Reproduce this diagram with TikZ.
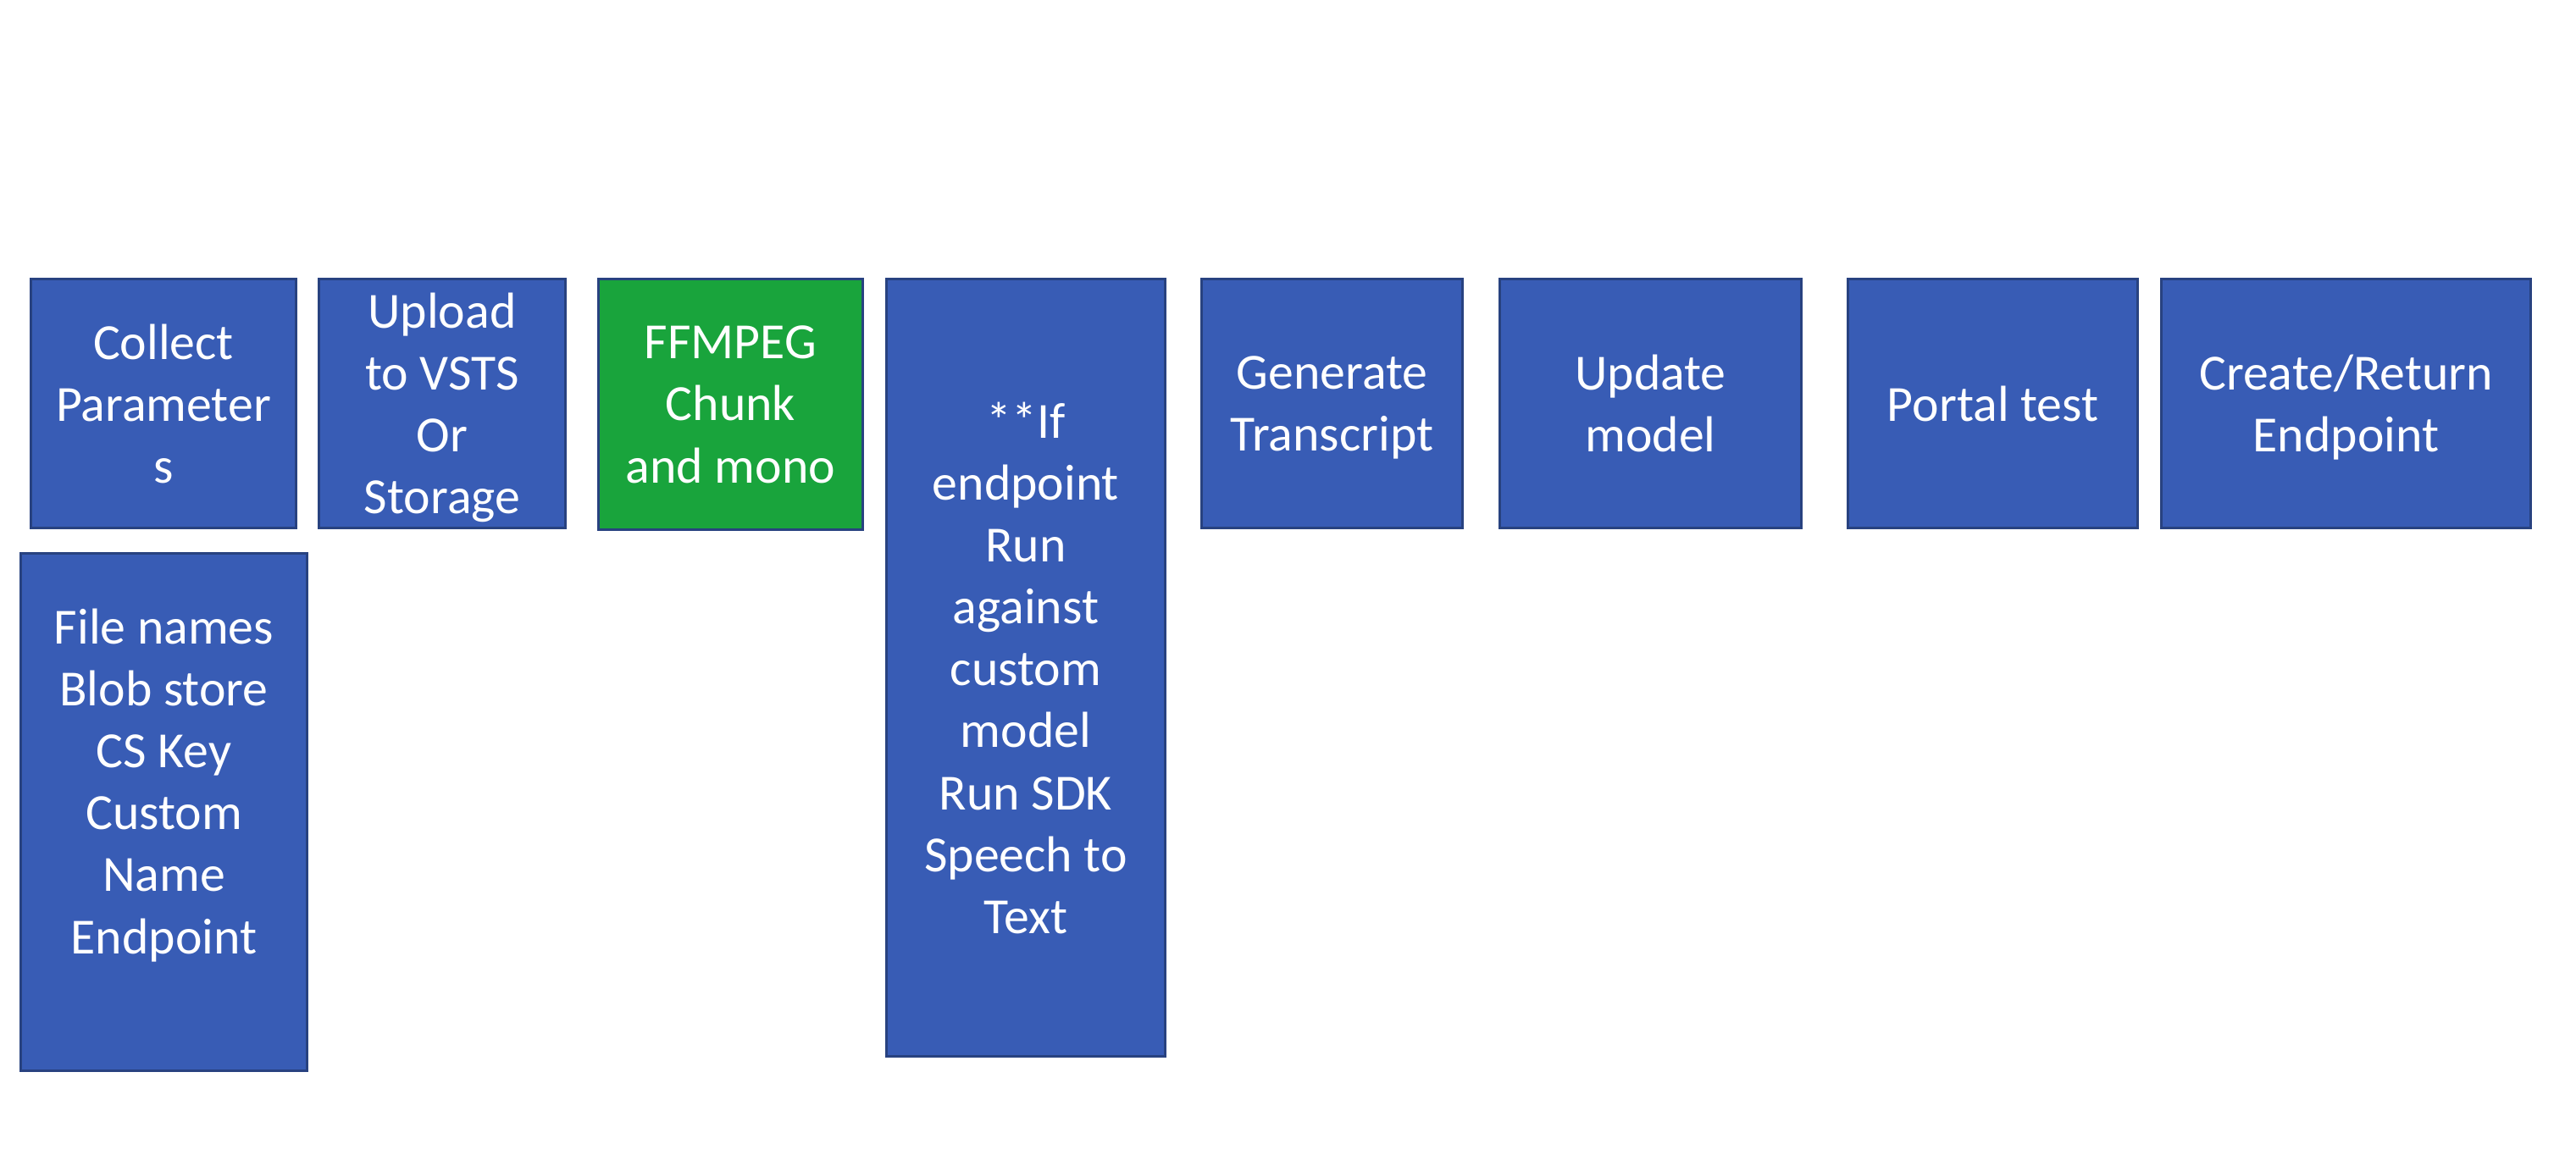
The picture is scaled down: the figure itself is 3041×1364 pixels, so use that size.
\documentclass[tikz,border=0pt]{standalone}
\usepackage{fontspec}
\setmainfont{Carlito}
\usepackage{tikz}
\usetikzlibrary{positioning,shapes}
\definecolor{stepblue}{RGB}{56,92,181}
\definecolor{stepedge}{RGB}{40,66,128}
\definecolor{stepgreen}{RGB}{25,164,60}
\tikzset{
    stage/.style={
        rectangle,
        fill=stepblue,
        draw=stepedge, line width=0.03cm,
        text=white,
        align=center,
        inner sep=2pt,
        text depth=0pt,
        font={\fontsize{17pt}{20.8pt}\selectfont}
    },
    greenstage/.style={stage, fill=stepgreen},
}
\begin{document}
\begin{tikzpicture}[x=0.01cm, y=-0.01cm]

\useasboundingbox (0,0) rectangle (3041,1364);

% top row of stages
\foreach \n/\x/\w/\t in {collect/193/316/{Collect\\Parameter\\s},
    upload/522/294/{Upload\\to VSTS\\Or\\Storage},
    generate/1572.5/311/{Generate\\Transcript},
    update/1948.5/359/{Update\\model},
    portal/2352.5/345/{Portal test},
    create/2769.5/439/{Create/Return\\Endpoint}}
  \node [stage, minimum width=(\w-3)*0.01cm, minimum height=2.94cm] (\n) at (\x,476.5) {\t};

\node [greenstage, minimum width=3.12cm, minimum height=2.96cm] (ffmpeg) at (862.5,477.5)
  {FFMPEG\\Chunk\\and mono};

\node [stage, minimum width=3.29cm, minimum height=9.18cm] (run) at (1211,788.5)
  {**If\\endpoint\\Run\\against\\custom\\model\\Run SDK\\Speech to\\Text};

\node [stage, minimum width=3.38cm, minimum height=6.11cm] (params) at (193.5,959)
  {File names\\Blob store\\CS Key\\Custom\\Name\\Endpoint\\~};

\end{tikzpicture}
\end{document}
